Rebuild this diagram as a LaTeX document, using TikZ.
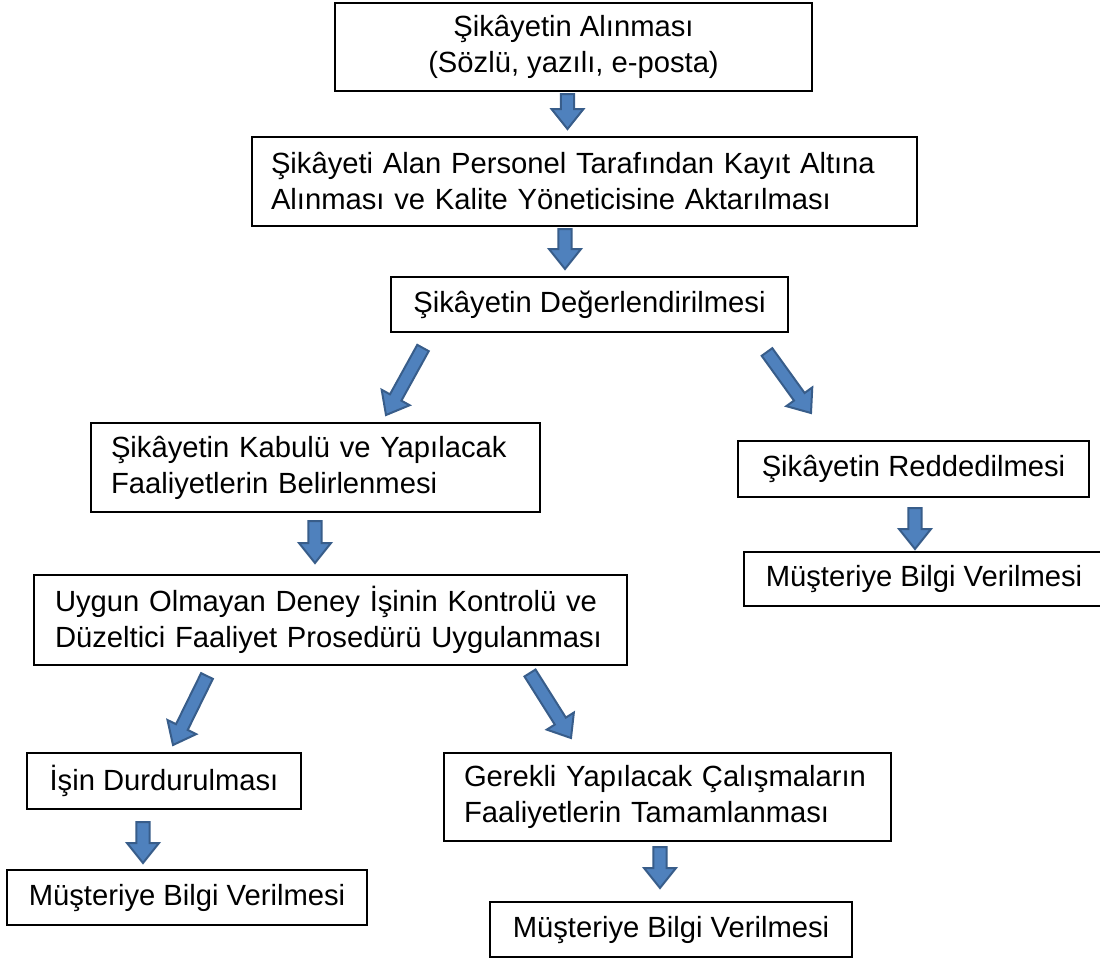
\documentclass[tikz,border=0pt]{standalone}
\usepackage{fontspec}
\setmainfont{Liberation Sans}
\usetikzlibrary{calc}
\definecolor{arrfill}{HTML}{4F81BD}
\definecolor{arrdraw}{HTML}{385D8A}
\newcommand{\blockarr}[3]{%
  \coordinate (#3c) at ($(#2)!15pt!(#1)$);
  \draw[barrow] ($(#1)!4.9pt!90:(#2)$) -- ($(#3c)!4.9pt!90:(#2)$) -- ($(#3c)!12pt!90:(#2)$) -- (#2)
     -- ($(#3c)!12pt!-90:(#2)$) -- ($(#3c)!4.9pt!-90:(#2)$) -- ($(#1)!4.9pt!-90:(#2)$) -- cycle;}
\begin{document}
\begin{tikzpicture}[x=0.75pt,y=-0.75pt,
  box/.style={draw=black, line width=1pt, inner sep=0pt, fill=white,
    font=\fontsize{21.9}{27}\selectfont},
  cbox/.style={box, align=center},
  lbox/.style={box, align=left},
  barrow/.style={fill=arrfill, draw=arrdraw, line width=1.5pt, line join=miter}]
\useasboundingbox (0,0) rectangle (1100,958);
\fill[white] (0,0) rectangle (1100,958);
% boxes
\node[cbox, minimum width=357.75pt, minimum height=66pt] (b1) at (573.5,47) {Şikâyetin Alınması\\(Sözlü, yazılı, e-posta)};
\node[lbox, minimum width=498.75pt, minimum height=66.75pt, text width=470.25pt] (b2) at (584.5,181.5) {Şikâyeti Alan Personel Tarafından Kayıt Altına\\Alınması ve Kalite Yöneticisine Aktarılması};
\node[cbox, minimum width=297.75pt, minimum height=41.25pt] (b3) at (589.5,304.5) {Şikâyetin Değerlendirilmesi};
\node[lbox, minimum width=336.75pt, minimum height=66.75pt, text width=306.75pt] (b4) at (315.5,467.5) {Şikâyetin Kabulü ve Yapılacak\\Faaliyetlerin Belirlenmesi};
\node[cbox, minimum width=263.25pt, minimum height=42pt] (b5) at (913.5,469) {Şikâyetin Reddedilmesi};
\node[cbox, minimum width=270pt, minimum height=40.5pt] (b6) at (924,579) {Müşteriye Bilgi Verilmesi};
\node[lbox, minimum width=444.75pt, minimum height=67.5pt, text width=413.25pt] (b7) at (330.5,620) {Uygun Olmayan Deney İşinin Kontrolü ve\\Düzeltici Faaliyet Prosedürü Uygulanması};
\node[cbox, minimum width=205.5pt, minimum height=42pt] (b8) at (164,781) {İşin Durdurulması};
\node[lbox, minimum width=335.25pt, minimum height=66pt, text width=305.25pt] (b9) at (667.5,797) {Gerekli Yapılacak Çalışmaların\\Faaliyetlerin Tamamlanması};
\node[cbox, minimum width=270pt, minimum height=41.25pt] (b10) at (187,897.5) {Müşteriye Bilgi Verilmesi};
\node[cbox, minimum width=271.5pt, minimum height=41.25pt] (b11) at (671,929.5) {Müşteriye Bilgi Verilmesi};
% arrow end points
\coordinate (s1) at (567.5,94);  \coordinate (e1) at (567.5,129);
\coordinate (s2) at (565,229);   \coordinate (e2) at (565,269);
\coordinate (s3) at (315,521);   \coordinate (e3) at (315,563);
\coordinate (s4) at (915,508);   \coordinate (e4) at (915,549);
\coordinate (s5) at (143,822);   \coordinate (e5) at (143,863);
\coordinate (s6) at (660,847);   \coordinate (e6) at (660,888);
\coordinate (s7) at (423,348);   \coordinate (e7) at (386,415);
\coordinate (s8) at (767,352);   \coordinate (e8) at (811,413);
\coordinate (s9) at (207,676);   \coordinate (e9) at (173,745);
\coordinate (s10) at (530,673);  \coordinate (e10) at (571,738);
\blockarr{s1}{e1}{a1}
\blockarr{s2}{e2}{a2}
\blockarr{s3}{e3}{a3}
\blockarr{s4}{e4}{a4}
\blockarr{s5}{e5}{a5}
\blockarr{s6}{e6}{a6}
\blockarr{s7}{e7}{a7}
\blockarr{s8}{e8}{a8}
\blockarr{s9}{e9}{a9}
\blockarr{s10}{e10}{a10}
\end{tikzpicture}
\end{document}
